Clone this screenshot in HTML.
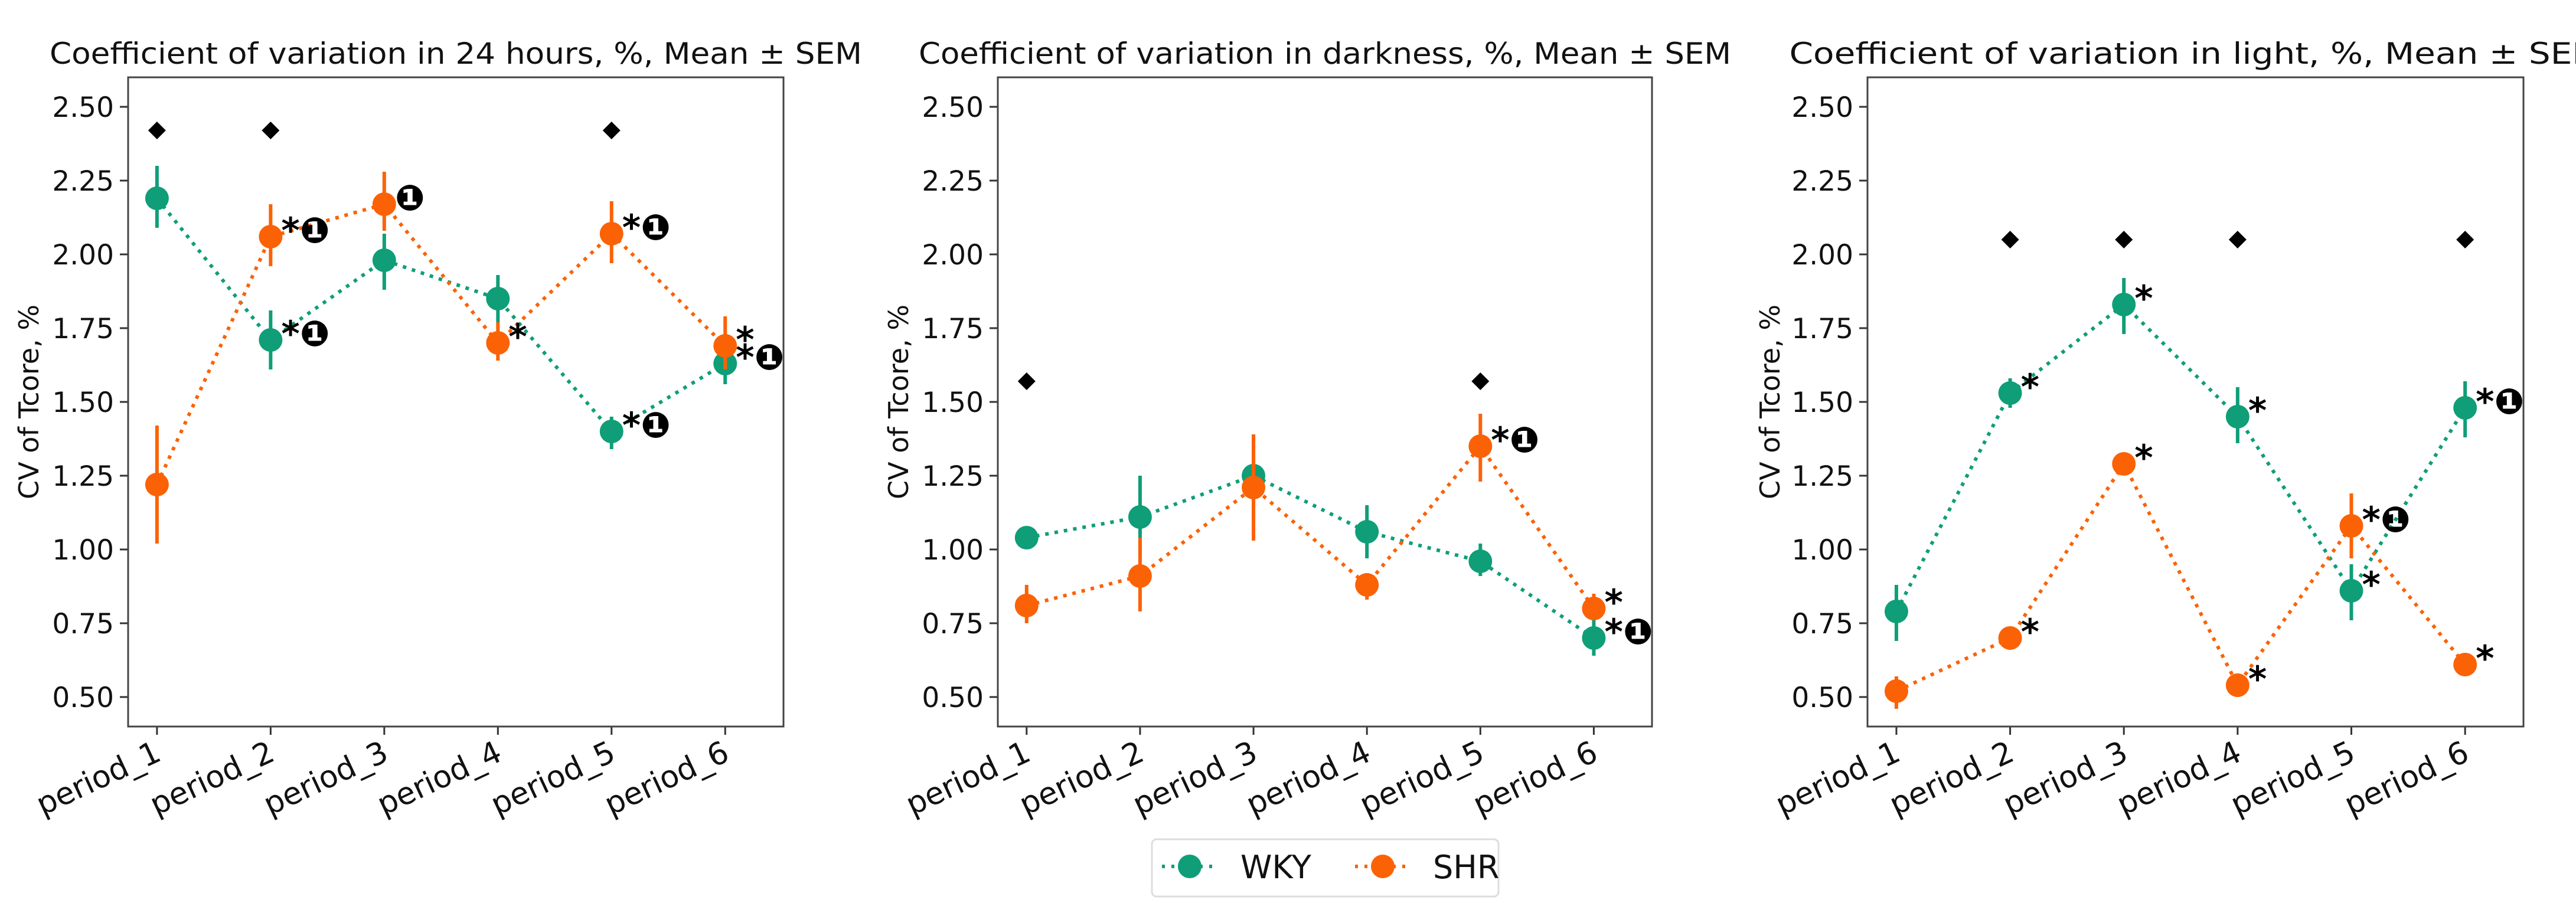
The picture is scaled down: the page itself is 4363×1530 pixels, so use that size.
<!DOCTYPE html>
<html><head><meta charset="utf-8">
<style>
html,body{margin:0;padding:0;background:#fff;}
svg{display:block;font-family:"DejaVu Sans","Liberation Sans",sans-serif;}
</style></head>
<body>
<svg id="fig" width="4363" height="1530" viewBox="0 0 4363 1530" xmlns="http://www.w3.org/2000/svg"></svg>
<script>
// ---------- data ----------
const categories = ["period_1","period_2","period_3","period_4","period_5","period_6"];
const yTicks = [0.50,0.75,1.00,1.25,1.50,1.75,2.00,2.25,2.50];
const panelTitles = ["Coefficient of variation in 24 hours, %, Mean \u00b1 SEM","Coefficient of variation in darkness, %, Mean \u00b1 SEM","Coefficient of variation in light, %, Mean \u00b1 SEM"];
// panel 1: 24 hours
const wky24 = [2.19,1.71,1.98,1.85,1.40,1.63];
const wky24Lo = [2.09,1.61,1.88,1.77,1.34,1.56];
const wky24Hi = [2.30,1.81,2.07,1.93,1.45,1.69];
const shr24 = [1.22,2.06,2.17,1.70,2.07,1.69];
const shr24Lo = [1.02,1.96,2.08,1.64,1.97,1.61];
const shr24Hi = [1.42,2.17,2.28,1.77,2.18,1.79];
const diam24 = [2.42,2.42,null,null,2.42,null];
const annWky24 = ["","*\u2776","","","*\u2776","*\u2776"];
const annShr24 = ["","*\u2776","\u2776","*","*\u2776","*"];
// panel 2: darkness
const wkyDark = [1.04,1.11,1.25,1.06,0.96,0.70];
const wkyDarkLo = [1.02,0.98,1.10,0.97,0.91,0.64];
const wkyDarkHi = [1.06,1.25,1.39,1.15,1.02,0.76];
const shrDark = [0.81,0.91,1.21,0.88,1.35,0.80];
const shrDarkLo = [0.75,0.79,1.03,0.83,1.23,0.76];
const shrDarkHi = [0.88,1.04,1.39,0.92,1.46,0.85];
const diamDark = [1.57,null,null,null,1.57,null];
const annWkyDark = ["","","","","","*\u2776"];
const annShrDark = ["","","","","*\u2776","*"];
// panel 3: light
const wkyLight = [0.79,1.53,1.83,1.45,0.86,1.48];
const wkyLightLo = [0.69,1.48,1.73,1.36,0.76,1.38];
const wkyLightHi = [0.88,1.58,1.92,1.55,0.95,1.57];
const shrLight = [0.52,0.70,1.29,0.54,1.08,0.61];
const shrLightLo = [0.46,0.66,1.27,0.50,0.97,0.59];
const shrLightHi = [0.57,0.73,1.31,0.58,1.19,0.63];
const diamLight = [null,2.05,2.05,2.05,null,2.05];
const annWkyLight = ["","*","*","*","*","*\u2776"];
const annShrLight = ["","*","*","*","*\u2776","*"];

const GREEN = "#0f9e78", ORANGE = "#fb6206";
const NS = "http://www.w3.org/2000/svg";
const svg = document.getElementById("fig");
function mk(tag, attrs, parent){
  const e = document.createElementNS(NS, tag);
  for (const k in attrs) e.setAttribute(k, attrs[k]);
  (parent||svg).appendChild(e);
  return e;
}
const TOP = 131, BOT = 1231;
const panels = [
  {left:217, right:1327, ylab:49, key:"24h", wky:wky24, wLo:wky24Lo, wHi:wky24Hi, shr:shr24, sLo:shr24Lo, sHi:shr24Hi, dia:diam24, aW:annWky24, aS:annShr24},
  {left:1690, right:2798, ylab:1522, key:"dark", wky:wkyDark, wLo:wkyDarkLo, wHi:wkyDarkHi, shr:shrDark, sLo:shrDarkLo, sHi:shrDarkHi, dia:diamDark, aW:annWkyDark, aS:annShrDark},
  {left:3163, right:4274, ylab:2998, key:"light", wky:wkyLight, wLo:wkyLightLo, wHi:wkyLightHi, shr:shrLight, sLo:shrLightLo, sHi:shrLightHi, dia:diamLight, aW:annWkyLight, aS:annShrLight}
];
panels.forEach((p, pi) => {
  const g = mk("g", {});
  
  
  const xS = i => p.left + (i + 0.254) / 5.767 * (p.right - p.left);
  const yS = v => BOT - (v - 0.4) / 2.2 * (BOT - TOP);
  const cx = (p.left + p.right) / 2;
  const t = mk("text", {x:cx, y:108, "text-anchor":"middle", "font-size":50, fill:"#111", textLength:1376, lengthAdjust:"spacingAndGlyphs"}, g);
  t.textContent = panelTitles[pi];
  
  
  const yl = mk("text", {x:0, y:0, transform:`translate(${p.ylab},${(TOP+BOT)/2}) rotate(-90)`, "text-anchor":"middle", "dominant-baseline":"central", "font-size":46, fill:"#111"}, g);
  yl.textContent = "CV of Tcore, %";
  
  
  yTicks.forEach(v => {
    const y = yS(v);
    mk("line", {x1:p.left-14, x2:p.left, y1:y, y2:y, stroke:"#333", "stroke-width":3}, g);
    const tl = mk("text", {x:p.left-24, y:y+17, "text-anchor":"end", "font-size":47, fill:"#111"}, g);
    tl.textContent = v.toFixed(2);
    
    
  });
  categories.forEach((c, i) => {
    const x = xS(i);
    mk("line", {x1:x, x2:x, y1:BOT, y2:BOT+14, stroke:"#333", "stroke-width":3}, g);
    const xl = mk("text", {x:0, y:0, transform:`translate(${x+10},${BOT+56}) rotate(-25)`, "text-anchor":"end", "font-size":52, fill:"#111"}, g);
    xl.textContent = c;
    
    
  });
  const series = [
    {name:"wky", vals:p.wky, lo:p.wLo, hi:p.wHi, col:GREEN, ann:p.aW},
    {name:"shr", vals:p.shr, lo:p.sLo, hi:p.sHi, col:ORANGE, ann:p.aS}
  ];
  series.forEach(s => {
    const pts = s.vals.map((v,i) => xS(i)+","+yS(v)).join(" ");
    const pl = mk("polyline", {points:pts, fill:"none", stroke:s.col, "stroke-width":6, "stroke-dasharray":"6 10"}, g);
    
    
  });
  series.forEach(s => {
    s.vals.forEach((v,i) => {
      const eb = mk("line", {x1:xS(i), x2:xS(i), y1:yS(s.lo[i]), y2:yS(s.hi[i]), stroke:s.col, "stroke-width":6}, g);
      
      
      const c = mk("circle", {cx:xS(i), cy:yS(v), r:20, fill:s.col}, g);
      
      
    });
  });
  series.forEach(s => {
    s.ann.forEach((a,i) => {
      if (!a) return;
      const at = mk("text", {x:xS(i)+18, y:yS(s.vals[i])+10, "font-size":60, "font-weight":"bold", fill:"#000"}, g);
      at.textContent = a;
      
      
    });
  });
  p.dia.forEach((v,i) => {
    if (v === null) return;
    const x = xS(i), y = yS(v);
    const d = mk("polygon", {points:`${x},${y-15} ${x+15},${y} ${x},${y+15} ${x-15},${y}`, fill:"#000"}, g);
    
    
  });
  const fr = mk("rect", {x:p.left, y:TOP, width:p.right-p.left, height:BOT-TOP, fill:"none", stroke:"#444", "stroke-width":3}, g);
  
  
});
const lg = mk("g", {});


mk("rect", {x:1951, y:1422, width:587, height:97, rx:8, fill:"#fff", stroke:"#ddd", "stroke-width":3}, lg);
[["WKY",GREEN,1968,2015,2101],["SHR",ORANGE,2295,2342,2427]].forEach(e => {
  const it = mk("g", {}, lg);
  
  
  mk("line", {x1:e[2], x2:e[2]+94, y1:1468, y2:1468, stroke:e[1], "stroke-width":6, "stroke-dasharray":"5 11"}, it);
  mk("circle", {cx:e[3], cy:1468, r:20, fill:e[1]}, it);
  const tx = mk("text", {x:e[4], y:1488, "font-size":54, fill:"#111"}, it);
  tx.textContent = e[0];
});
</script>
</body></html>
